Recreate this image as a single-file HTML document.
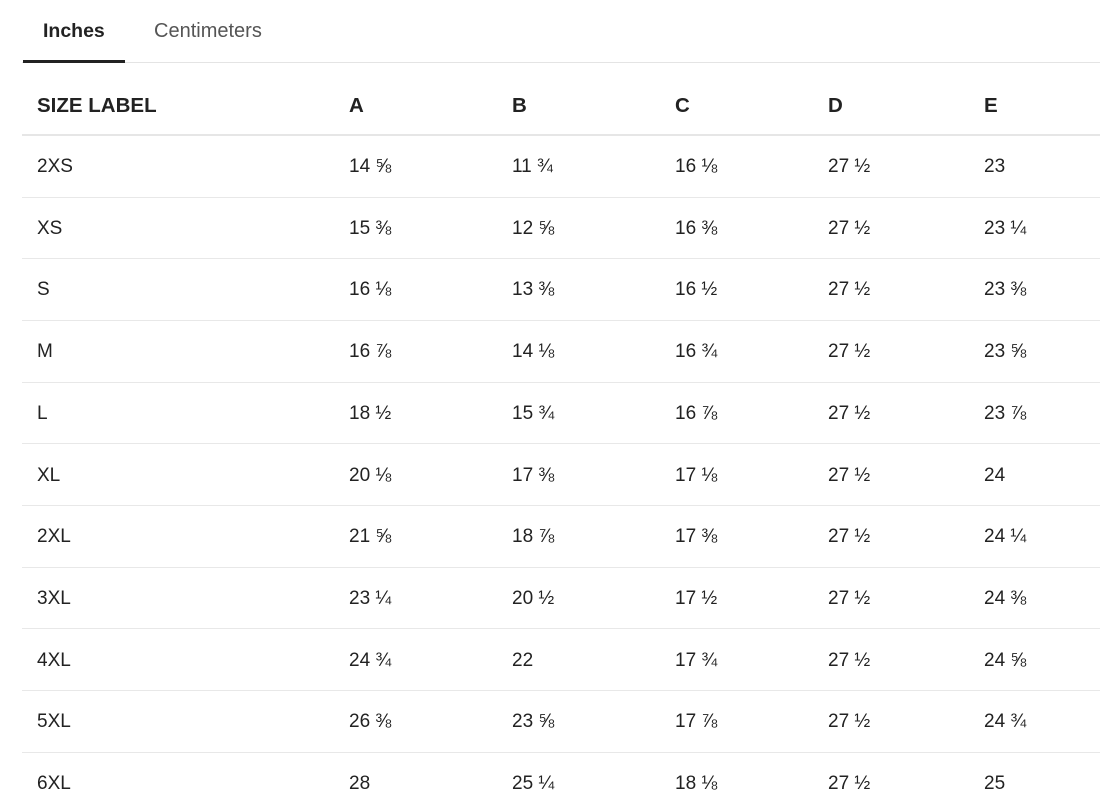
<!DOCTYPE html>
<html><head><meta charset="utf-8"><style>
body{margin:0;width:1100px;height:812px;background:#fff;overflow:hidden;font-family:"Liberation Sans","DejaVu Sans",sans-serif;color:#222;position:relative}
.t{position:absolute;font-size:19px;line-height:20px;white-space:nowrap}
.b{font-weight:bold}
.h{position:absolute;left:22px;right:0;background:#e8e8e8}
</style></head><body>
<div class="t b" style="left:43px;top:21px;font-size:19.5px;color:#222">Inches</div>
<div class="t" style="left:154px;top:21px;font-size:20px;color:#555">Centimeters</div>
<div class="h" style="top:62px;height:1px;background:#e4e4e4"></div>
<div style="position:absolute;left:23px;width:102px;top:60px;height:3px;background:#222"></div>
<div class="h" style="top:134px;height:2px;background:#e6e6e6"></div>
<div id="rows"></div>
<script>
var cols=[37,349,512,675,828,984];
var hdr=["SIZE LABEL","A","B","C","D","E"];
var data=[
["2XS","14 ⅝","11 ¾","16 ⅛","27 ½","23"],
["XS","15 ⅜","12 ⅝","16 ⅜","27 ½","23 ¼"],
["S","16 ⅛","13 ⅜","16 ½","27 ½","23 ⅜"],
["M","16 ⅞","14 ⅛","16 ¾","27 ½","23 ⅝"],
["L","18 ½","15 ¾","16 ⅞","27 ½","23 ⅞"],
["XL","20 ⅛","17 ⅜","17 ⅛","27 ½","24"],
["2XL","21 ⅝","18 ⅞","17 ⅜","27 ½","24 ¼"],
["3XL","23 ¼","20 ½","17 ½","27 ½","24 ⅜"],
["4XL","24 ¾","22","17 ¾","27 ½","24 ⅝"],
["5XL","26 ⅜","23 ⅝","17 ⅞","27 ½","24 ¾"],
["6XL","28","25 ¼","18 ⅛","27 ½","25"]];
var h="";
hdr.forEach(function(s,i){h+='<div class="t b" style="left:'+cols[i]+'px;top:96px;font-size:20.5px">'+s+'</div>';});
data.forEach(function(r,j){var y=165+j*61.7;
r.forEach(function(s,i){h+='<div class="t" style="left:'+cols[i]+'px;top:'+(y-8)+'px">'+s+'</div>';});
if(j<10)h+='<div class="h" style="top:'+Math.round(y+31.5)+'px;height:1px"></div>';});
document.getElementById("rows").innerHTML=h;
</script>
</body></html>
